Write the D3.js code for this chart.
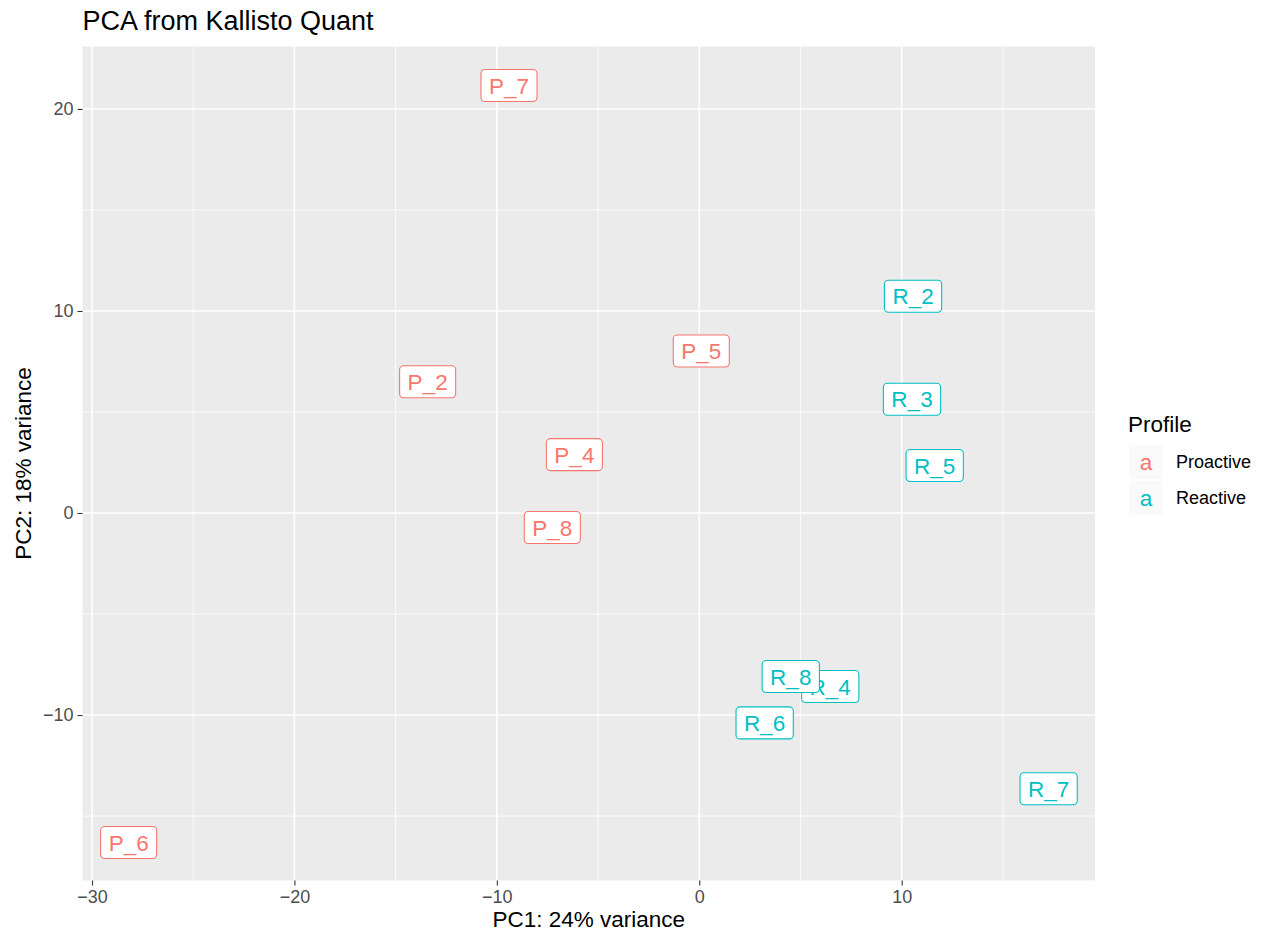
<!DOCTYPE html>
<html>
<head>
<meta charset="utf-8">
<script src="https://cdn.jsdelivr.net/npm/d3@7"></script>
<style>
  body { margin: 0; background: #fff; }
  text { font-family: "Liberation Sans", Arial, sans-serif; }
</style>
</head>
<body>
<svg id="chart" width="1265" height="936"></svg>
<script>
// --- Data (drawing order matters for overlaps) ---
const samples = ['P_7', 'P_2', 'P_5', 'P_4', 'P_8', 'P_6', 'R_2', 'R_3', 'R_5', 'R_4', 'R_8', 'R_6', 'R_7'];
const pc1 = [-9.40, -13.42, 0.10, -6.17, -7.26, -28.19, 10.56, 10.51, 11.63, 6.47, 4.52, 3.23, 17.26];
const pc2 = [21.16, 6.50, 8.02, 2.89, -0.72, -16.31, 10.73, 5.63, 2.35, -8.59, -8.09, -10.39, -13.65];
const profile = ['Proactive', 'Proactive', 'Proactive', 'Proactive', 'Proactive', 'Proactive',
  'Reactive', 'Reactive', 'Reactive', 'Reactive', 'Reactive', 'Reactive', 'Reactive'];
const profiles = ['Proactive', 'Reactive'];
const xTicks = [-30, -20, -10, 0, 10];
const yTicks = [-10, 0, 10, 20];

const svg = d3.select('#chart');
const panel = { left: 82.5, right: 1095, top: 46.5, bottom: 880.5 };

const x = d3.scaleLinear().domain([-30.47, 19.55]).range([panel.left, panel.right]);
const y = d3.scaleLinear().domain([-18.19, 23.09]).range([panel.bottom, panel.top]);
const color = d3.scaleOrdinal().domain(profiles).range(['#F8766D', '#00BFC4']);

// panel background
svg.append('rect')
  .attr('x', panel.left).attr('y', panel.top)
  .attr('width', panel.right - panel.left).attr('height', panel.bottom - panel.top)
  .attr('fill', '#EBEBEB');

// minor grid (midpoints between major ticks)
const xMinor = d3.range(-25, 20, 10);
const yMinor = d3.range(-15, 23, 10);
svg.selectAll('.xminor').data(xMinor).enter().append('line')
  .attr('x1', d => x(d)).attr('x2', d => x(d))
  .attr('y1', panel.top).attr('y2', panel.bottom)
  .attr('stroke', '#fff').attr('stroke-width', 0.8);
svg.selectAll('.yminor').data(yMinor).enter().append('line')
  .attr('y1', d => y(d)).attr('y2', d => y(d))
  .attr('x1', panel.left).attr('x2', panel.right)
  .attr('stroke', '#fff').attr('stroke-width', 0.8);

// major grid
svg.selectAll('.xmajor').data(xTicks).enter().append('line')
  .attr('x1', d => x(d)).attr('x2', d => x(d))
  .attr('y1', panel.top).attr('y2', panel.bottom)
  .attr('stroke', '#fff').attr('stroke-width', 1.6);
svg.selectAll('.ymajor').data(yTicks).enter().append('line')
  .attr('y1', d => y(d)).attr('y2', d => y(d))
  .attr('x1', panel.left).attr('x2', panel.right)
  .attr('stroke', '#fff').attr('stroke-width', 1.6);

// axes
const fmt = d => d < 0 ? '\u2212' + Math.abs(d) : String(d);
const xAxis = svg.append('g')
  .attr('transform', `translate(0,${panel.bottom})`)
  .call(d3.axisBottom(x).tickValues(xTicks).tickSize(5).tickPadding(5).tickFormat(fmt));
const yAxis = svg.append('g')
  .attr('transform', `translate(${panel.left},0)`)
  .call(d3.axisLeft(y).tickValues(yTicks).tickSize(5).tickPadding(4).tickFormat(fmt));
[xAxis, yAxis].forEach(g => {
  g.select('.domain').remove();
  g.selectAll('.tick line').attr('stroke', '#333').attr('stroke-width', 1.1);
  g.selectAll('.tick text').attr('fill', '#4D4D4D').style('font-size', '18px')
    .style('font-family', '"Liberation Sans", Arial, sans-serif');
});

// labels (geom_label style)
const labelGroup = svg.append('g');
samples.forEach((s, i) => {
  const g = labelGroup.append('g')
    .attr('transform', `translate(${x(pc1[i])},${y(pc2[i])})`);
  const rect = g.append('rect');
  const t = g.append('text')
    .attr('text-anchor', 'middle')
    .attr('dy', '0.36em')
    .attr('fill', color(profile[i]))
    .style('font-size', '22.5px')
    .text(s);
  const w = t.node().getComputedTextLength() + 16;
  const h = 32;
  rect.attr('x', -w / 2).attr('y', -h / 2).attr('width', w).attr('height', h)
    .attr('rx', 4).attr('ry', 4)
    .attr('fill', '#fff')
    .attr('stroke', color(profile[i])).attr('stroke-width', 1.1);
});

// title and axis titles
svg.append('text')
  .attr('x', panel.left).attr('y', 30)
  .attr('fill', '#000').style('font-size', '27px')
  .text('PCA from Kallisto Quant');
svg.append('text')
  .attr('x', (panel.left + panel.right) / 2).attr('y', 927)
  .attr('text-anchor', 'middle').attr('fill', '#000').style('font-size', '22.5px')
  .text('PC1: 24% variance');
svg.append('text')
  .attr('transform', `translate(31,${(panel.top + panel.bottom) / 2}) rotate(-90)`)
  .attr('text-anchor', 'middle').attr('fill', '#000').style('font-size', '22.5px')
  .text('PC2: 18% variance');

// legend
const legend = svg.append('g').attr('transform', 'translate(1128,0)');
legend.append('text')
  .attr('x', 0).attr('y', 432)
  .attr('fill', '#000').style('font-size', '22.5px')
  .text('Profile');
profiles.forEach((p, i) => {
  const cy = 462 + i * 36;
  legend.append('rect')
    .attr('x', 1).attr('y', cy - 17).attr('width', 34).attr('height', 34)
    .attr('fill', '#FAFAFA');
  legend.append('text')
    .attr('x', 18).attr('y', cy).attr('dy', '0.36em')
    .attr('text-anchor', 'middle').attr('fill', color(p))
    .style('font-size', '22.5px')
    .text('a');
  legend.append('text')
    .attr('x', 48).attr('y', cy).attr('dy', '0.36em')
    .attr('fill', '#000').style('font-size', '18px')
    .text(p);
});
</script>
</body>
</html>
